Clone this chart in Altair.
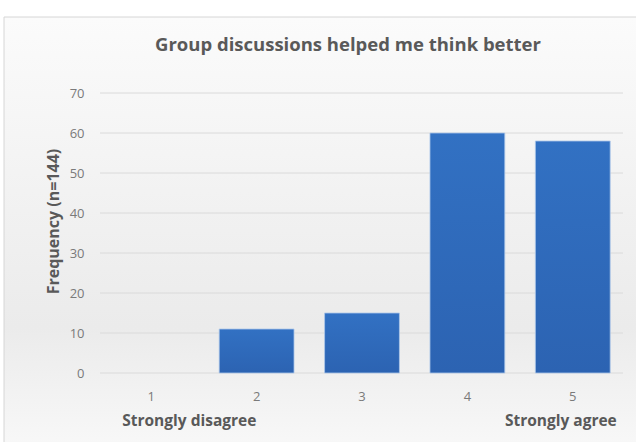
import altair as alt
import pandas as pd

categories = ["1", "2", "3", "4", "5"]
counts = [0, 11, 15, 60, 58]
grid_values = [0, 10, 20, 30, 40, 50, 60, 70]
title_text = "Group discussions helped me think better"
y_title = "Frequency (n=144)"
left_note = "Strongly disagree"
right_note = "Strongly agree"

W, H = 528, 280
FONT = "Open Sans"

df = pd.DataFrame({"cat": categories, "count": counts})
grid_df = pd.DataFrame({"count": grid_values})

xscale = alt.Scale(domain=categories, paddingInner=0.29, paddingOuter=0.15)
yscale = alt.Scale(domain=[0, 70])

yaxis = alt.Axis(values=grid_values, grid=False, domain=False, ticks=False,
                 labelFont=FONT, labelFontSize=13, labelColor="#7a7a7a",
                 labelPadding=14, zindex=1,
                 title=y_title, titleFont=FONT, titleFontSize=16,
                 titleFontWeight="bold", titleColor="#595959",
                 titleAngle=-90, titleX=-45, titleY=128,
                 titleAlign="center", titleBaseline="middle")

panel = alt.Chart(alt.Data(values=[{}])).mark_rect(
    fill=alt.Gradient(
        gradient="linear", x1=0, x2=0, y1=0, y2=1,
        stops=[alt.GradientStop(color="#fbfbfb", offset=0),
               alt.GradientStop(color="#ebebeb", offset=0.72),
               alt.GradientStop(color="#f8f8f8", offset=1)]),
    stroke="#d6d6d6", strokeWidth=1,
).encode(x=alt.value(-94), x2=alt.value(545), y=alt.value(-76), y2=alt.value(355))

grid = alt.Chart(grid_df).mark_rule(color="#dadada", strokeWidth=1).encode(
    y=alt.Y("count:Q", scale=yscale, axis=yaxis),
    x=alt.value(2), x2=alt.value(525),
)

bars = alt.Chart(df).mark_bar(
    fill=alt.Gradient(
        gradient="linear", x1=0, x2=0, y1=0, y2=1,
        stops=[alt.GradientStop(color="#3271c3", offset=0),
               alt.GradientStop(color="#2c63b2", offset=1)]),
    stroke="#aec8ea", strokeWidth=1,
).encode(
    x=alt.X("cat:N", scale=xscale, sort=categories,
            axis=alt.Axis(title=None, labelAngle=0, domain=False, ticks=False,
                          labelFont=FONT, labelFontSize=13, labelColor="#7a7a7a",
                          labelPadding=17, zindex=1)),
    y=alt.Y("count:Q", scale=yscale, axis=yaxis),
    strokeOpacity=alt.condition("datum.count > 0", alt.value(0.8), alt.value(0)),
)

title = alt.Chart(alt.Data(values=[{"t": title_text}])).mark_text(
    font=FONT, fontSize=18.5, fontWeight="bold", color="#595959",
    align="center", baseline="middle",
).encode(text="t:N", x=alt.value(250), y=alt.value(-48))

notes_df = pd.DataFrame({"cat": [categories[0], categories[-1]],
                         "note": [left_note, right_note]})
left = alt.Chart(notes_df.iloc[[0]]).mark_text(
    font=FONT, fontSize=15.5, fontWeight="bold", color="#595959",
    align="left", baseline="middle", dx=-29,
).encode(x=alt.X("cat:N", scale=xscale, sort=categories), text="note:N", y=alt.value(328))
right = alt.Chart(notes_df.iloc[[1]]).mark_text(
    font=FONT, fontSize=15.5, fontWeight="bold", color="#595959",
    align="right", baseline="middle", dx=44,
).encode(x=alt.X("cat:N", scale=xscale, sort=categories), text="note:N", y=alt.value(328))

chart = alt.layer(panel, grid, bars, title, left, right).properties(
    width=W, height=H,
    padding={"left": 98, "top": 93, "right": 10, "bottom": 69},
    autosize=alt.AutoSizeParams(type="none"),
    background="white",
).configure_view(stroke=None)

chart.save("out.html", embed_options={"renderer": "svg", "actions": False})
